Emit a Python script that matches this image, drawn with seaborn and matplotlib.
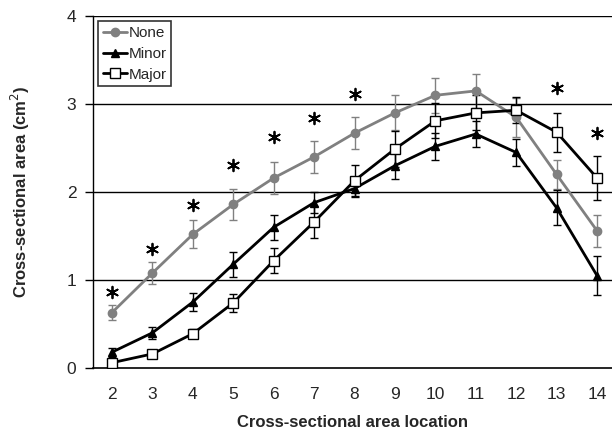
import matplotlib
matplotlib.use("Agg")
import matplotlib.pyplot as plt
import seaborn as sns
import pandas as pd

locations = [2, 3, 4, 5, 6, 7, 8, 9, 10, 11, 12, 13, 14]
none_vals = [0.63, 1.08, 1.52, 1.86, 2.16, 2.40, 2.67, 2.90, 3.10, 3.15, 2.85, 2.20, 1.56]
none_err = [0.09, 0.12, 0.16, 0.18, 0.18, 0.18, 0.18, 0.20, 0.20, 0.19, 0.22, 0.16, 0.18]
minor_vals = [0.18, 0.40, 0.75, 1.18, 1.60, 1.88, 2.04, 2.30, 2.52, 2.66, 2.45, 1.82, 1.05]
minor_err = [0.05, 0.07, 0.10, 0.14, 0.14, 0.12, 0.10, 0.15, 0.15, 0.15, 0.15, 0.20, 0.22]
major_vals = [0.06, 0.16, 0.39, 0.74, 1.22, 1.66, 2.13, 2.49, 2.81, 2.90, 2.93, 2.68, 2.16]
major_err = [0.03, 0.03, 0.05, 0.10, 0.14, 0.18, 0.18, 0.20, 0.20, 0.20, 0.15, 0.22, 0.25]
star_locs = [2, 3, 4, 5, 6, 7, 8, 13, 14]
star_vals = [0.86, 1.35, 1.85, 2.31, 2.63, 2.84, 3.12, 3.18, 2.67]
yticks = [0, 1, 2, 3, 4]

sns.set_style("white")
plt.rcParams['font.family'] = ['Liberation Sans', 'DejaVu Sans']

fig = plt.figure(figsize=(6.12, 4.36), dpi=100)
ax = fig.add_axes([0.152, 0.156, 0.848, 0.807])

df = pd.DataFrame({
    "loc": locations * 3,
    "val": none_vals + minor_vals + major_vals,
    "grp": ["None"] * 13 + ["Minor"] * 13 + ["Major"] * 13,
})
palette = {"None": "#808080", "Minor": "black", "Major": "black"}
markers = {"None": "o", "Minor": "^", "Major": "s"}

for g, err in [("None", none_err), ("Minor", minor_err), ("Major", major_err)]:
    sub = df[df.grp == g]
    ax.errorbar(sub["loc"], sub["val"], yerr=err, fmt="none", ecolor=palette[g],
                elinewidth=1.0, capsize=3, capthick=1.0, zorder=2)

for g in ["None", "Minor", "Major"]:
    sub = df[df.grp == g]
    mfc = "white" if g == "Major" else palette[g]
    sns.lineplot(data=sub, x="loc", y="val", ax=ax, color=palette[g], marker=markers[g],
                 markersize=6 if g != "Major" else 7, markerfacecolor=mfc,
                 markeredgecolor=palette[g], markeredgewidth=1.0, linewidth=2,
                 label=g, zorder=3)

ax.scatter(star_locs, star_vals, marker=(6, 2, 0), s=70, color="black", linewidths=1.3, zorder=4)

ax.set_xlim(1.53, 14.37)
ax.set_ylim(0, 4)
ax.set_yticks(yticks)
ax.set_xticks(locations)
ax.set_xticklabels([str(v) for v in locations])
for y in [1, 2, 3, 4]:
    ax.axhline(y, color="black", lw=1.0, zorder=1)
for s in ["top", "right"]:
    ax.spines[s].set_visible(False)
ax.spines["left"].set_color("black")
ax.spines["bottom"].set_color("black")
ax.spines["left"].set_linewidth(1.0)
ax.spines["bottom"].set_linewidth(1.2)
ax.tick_params(axis="y", length=6, width=1, left=True, labelsize=12.5, pad=6, color="black")
ax.tick_params(axis="x", length=0, labelsize=12.5, pad=14)

ax.set_xlabel("Cross-sectional area location", fontsize=12, fontweight="bold", labelpad=9)
ax.set_ylabel("Cross-sectional area (cm$^{2}$)", fontsize=12, fontweight="bold", labelpad=25)

leg = ax.legend(loc="upper left", bbox_to_anchor=(0.01, 0.985), frameon=True, fancybox=False,
                edgecolor="black", fontsize=11, handlelength=1.6, handletextpad=0.1,
                borderpad=0.3, labelspacing=0.45, borderaxespad=0.0)
leg.get_frame().set_linewidth(1.2)

fig.savefig("out.png", dpi=100)
